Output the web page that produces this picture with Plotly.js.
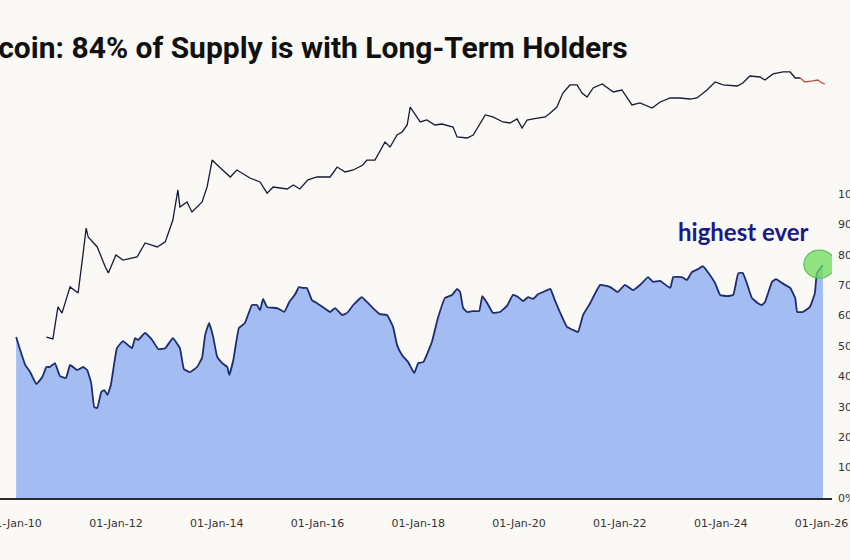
<!DOCTYPE html>
<html>
<head>
<meta charset="utf-8">
<script src="https://cdn.plot.ly/plotly-3.0.1.min.js"></script>
<style>
  html, body { margin: 0; padding: 0; background: #fbf9f6; }
  #chart { width: 850px; height: 560px; }
</style>
</head>
<body>
<div id="chart"></div>
<script>
// ---- Data (decimal years) ----
// Share of Bitcoin supply held by long-term holders (%)
const lthYears = [
  2010.02,2010.10,2010.20,2010.30,2010.42,2010.54,2010.62,2010.69,2010.79,2010.89,
  2011.01,2011.09,2011.23,2011.35,2011.43,2011.51,2011.57,2011.63,2011.71,2011.77,
  2011.83,2011.90,2012.02,2012.14,2012.24,2012.32,2012.38,2012.44,2012.58,2012.72,
  2012.84,2012.98,2013.13,2013.27,2013.35,2013.47,2013.61,2013.71,2013.77,2013.85,
  2013.93,2014.01,2014.11,2014.21,2014.25,2014.33,2014.44,2014.56,2014.70,2014.80,
  2014.86,2014.92,2015.00,2015.20,2015.34,2015.44,2015.56,2015.63,2015.71,2015.79,
  2015.89,2015.99,2016.11,2016.25,2016.35,2016.49,2016.59,2016.71,2016.88,2016.98,
  2017.10,2017.24,2017.38,2017.50,2017.58,2017.68,2017.80,2017.92,2018.00,2018.10,
  2018.27,2018.39,2018.53,2018.67,2018.77,2018.83,2018.89,2018.97,2019.09,2019.21,
  2019.27,2019.37,2019.48,2019.62,2019.76,2019.88,2019.98,2020.08,2020.18,2020.28,
  2020.38,2020.48,2020.62,2020.71,2020.81,2020.95,2021.07,2021.17,2021.27,2021.41,
  2021.61,2021.81,2021.96,2022.10,2022.26,2022.40,2022.56,2022.66,2022.80,2023.00,
  2023.06,2023.23,2023.33,2023.43,2023.55,2023.65,2023.73,2023.89,2023.99,2024.13,
  2024.25,2024.35,2024.44,2024.52,2024.62,2024.74,2024.82,2024.88,2025.02,2025.10,
  2025.22,2025.38,2025.48,2025.52,2025.63,2025.77,2025.87,2025.91,2026.03
];
const lthShare = [
  53.0,48.7,43.8,41.4,37.5,39.8,43.1,43.1,44.4,40.1,
  39.5,43.8,42.1,43.1,42.1,37.8,29.9,29.6,34.9,35.5,
  33.9,37.2,49.3,51.6,50.3,49.3,52.6,52.0,54.3,52.0,
  49.0,49.3,52.6,49.3,42.4,41.4,43.1,46.1,53.6,57.6,
  53.0,46.4,44.4,43.1,40.5,45.4,55.9,57.6,63.5,63.5,
  61.8,65.5,62.8,62.5,61.2,64.5,67.1,69.4,69.1,69.1,
  65.1,64.1,62.8,61.2,62.5,60.2,60.9,63.5,66.1,64.5,
  62.5,60.5,60.2,56.3,50.3,47.0,44.7,41.1,44.4,44.7,
  51.3,59.2,65.8,66.8,68.8,67.8,62.5,61.2,61.5,61.5,
  66.4,64.1,60.9,61.2,63.2,66.8,66.1,64.8,66.1,65.5,
  67.1,67.8,68.8,65.1,61.2,56.3,55.3,54.6,60.2,64.1,
  70.1,69.4,67.8,70.1,68.4,70.1,72.7,71.1,71.4,69.1,
  72.7,72.7,71.7,74.3,75.3,76.3,74.7,70.7,66.8,66.4,
  66.8,74.0,74.0,70.7,65.8,64.1,63.5,64.5,71.1,72.0,
  70.7,69.1,65.8,61.2,61.2,62.8,67.4,74.0,76.6
];

// Bitcoin price (USD, log scale, no visible axis)
const priceYears = [
  2010.62,2010.75,2010.85,2010.93,2011.09,2011.25,2011.35,2011.41,2011.45,2011.63,
  2011.79,2011.85,2012.00,2012.14,2012.42,2012.58,2012.82,2012.98,2013.13,2013.23,
  2013.27,2013.41,2013.51,2013.71,2013.81,2013.91,2014.01,2014.27,2014.40,2014.66,
  2014.86,2015.00,2015.12,2015.40,2015.52,2015.65,2015.81,2015.99,2016.25,2016.39,
  2016.55,2016.71,2016.90,2016.98,2017.14,2017.34,2017.44,2017.58,2017.68,2017.78,
  2017.84,2017.94,2018.04,2018.17,2018.33,2018.47,2018.69,2018.77,2018.97,2019.09,
  2019.23,2019.33,2019.48,2019.68,2019.82,2019.96,2020.06,2020.16,2020.28,2020.42,
  2020.52,2020.62,2020.75,2020.87,2021.01,2021.15,2021.25,2021.35,2021.47,2021.65,
  2021.87,2022.04,2022.24,2022.40,2022.64,2022.80,2023.00,2023.19,2023.39,2023.53,
  2023.73,2023.89,2024.05,2024.33,2024.44,2024.58,2024.78,2024.88,2025.04,2025.24,
  2025.38,2025.48,2025.58
];
const priceUsd = [
  0.082,0.074,0.42,0.30,1.24,0.89,7.8,30,18.5,10.8,
  3.65,2.64,7.0,5.3,6.3,13.4,10.8,14.2,46.6,237,
  94,124,72,124,279,1200,916,478,700,453,
  365,200,278,250,311,250,409,479,479,820,
  628,700,916,1200,1200,3190,2430,4660,5480,8010,
  21200,13800,9420,10500,8010,8450,7180,4180,3960,4660,
  8930,13800,12400,9420,8930,11100,6810,10500,11100,11700,
  12400,15300,21200,45300,70000,70000,45300,36500,59400,73800,
  47900,53300,23700,26400,20100,27900,34600,34600,32700,34600,
  53300,82200,70000,66200,78000,113700,107800,91600,127000,141600,
  141600,102000,102000
];
// Most recent stretch of price, drawn in red
const recentYears = [2025.58,2025.67,2025.83,2025.93,2026.01,2026.07];
const recentUsd   = [102000,82200,86900,91600,78000,73800];

const xTickVals = [2010,2012,2014,2016,2018,2020,2022,2024,2026];
const xTickText = ['01-Jan-10','01-Jan-12','01-Jan-14','01-Jan-16','01-Jan-18','01-Jan-20','01-Jan-22','01-Jan-24','01-Jan-26'];
const yTickVals = [0,10,20,30,40,50,60,70,80,90,100];
const yTickText = ['0%','10%','20%','30%','40%','50%','60%','70%','80%','90%','100%'];

const titleText = 'Bitcoin: 84% of Supply is with Long-Term Holders';
const calloutText = 'highest ever';

const lastX = lthYears[lthYears.length - 1];
const lastY = lthShare[lthShare.length - 1];

const traces = [
  {
    x: lthYears, y: lthShare, type: 'scatter', mode: 'lines',
    fill: 'tozeroy', fillcolor: '#a3bcf2',
    line: { color: '#1e2c6e', width: 1.8, shape: 'spline', smoothing: 0.3 },
    hoverinfo: 'skip', showlegend: false
  },
  {
    x: priceYears, y: priceUsd, type: 'scatter', mode: 'lines', yaxis: 'y2',
    line: { color: '#161a33', width: 1.3 },
    hoverinfo: 'skip', showlegend: false
  },
  {
    x: recentYears, y: recentUsd, type: 'scatter', mode: 'lines', yaxis: 'y2',
    line: { color: '#b4553f', width: 1.3 },
    hoverinfo: 'skip', showlegend: false
  }
];

const layout = {
  width: 850, height: 560,
  paper_bgcolor: '#fbf9f6', plot_bgcolor: '#fbf9f6',
  margin: { l: 0, r: 18, t: 50, b: 62 },
  showlegend: false,
  xaxis: {
    range: [2009.70, 2026.21],
    tickvals: xTickVals, ticktext: xTickText,
    showgrid: false, zeroline: false,
    showline: true, linecolor: '#2a2a2a', linewidth: 1.5,
    ticks: '', ticklabelstandoff: 14, ticklabeloverflow: 'allow',
    tickfont: { family: 'DejaVu Sans', size: 11, color: '#333333' }
  },
  yaxis: {
    range: [0, 147.4], side: 'right',
    tickvals: yTickVals, ticktext: yTickText,
    showgrid: false, zeroline: false, showline: false,
    ticks: '', ticklabelstandoff: 5, ticklabeloverflow: 'allow',
    tickfont: { family: 'DejaVu Sans', size: 11, color: '#333333' }
  },
  yaxis2: {
    type: 'log', overlaying: 'y', range: [-4.873, 5.668],
    visible: false, showgrid: false, zeroline: false
  },
  annotations: [
    {
      text: titleText, xref: 'paper', yref: 'paper',
      x: 0.7575, xanchor: 'right', y: 1.0, yanchor: 'middle', yshift: 3,
      showarrow: false,
      font: { family: 'Roboto', size: 30, color: '#111111', weight: 'bold' }
    },
    {
      text: '<b>' + calloutText + '</b>', xref: 'x', yref: 'y',
      x: lastX, y: lastY, xanchor: 'right', yanchor: 'bottom',
      xshift: -12, yshift: 17, showarrow: false,
      font: { family: 'Lato', size: 24, color: '#1a1a86' }
    }
  ],
  shapes: [
    {
      type: 'circle', xref: 'x', yref: 'y',
      xsizemode: 'pixel', ysizemode: 'pixel',
      xanchor: lastX, yanchor: lastY,
      x0: -19, x1: 12, y0: -13, y1: 15,
      fillcolor: 'rgba(110,220,90,0.75)',
      line: { color: '#5cc24a', width: 1.2 },
      layer: 'above'
    }
  ]
};

Plotly.newPlot('chart', traces, layout, { staticPlot: true, displayModeBar: false });
</script>
</body>
</html>
